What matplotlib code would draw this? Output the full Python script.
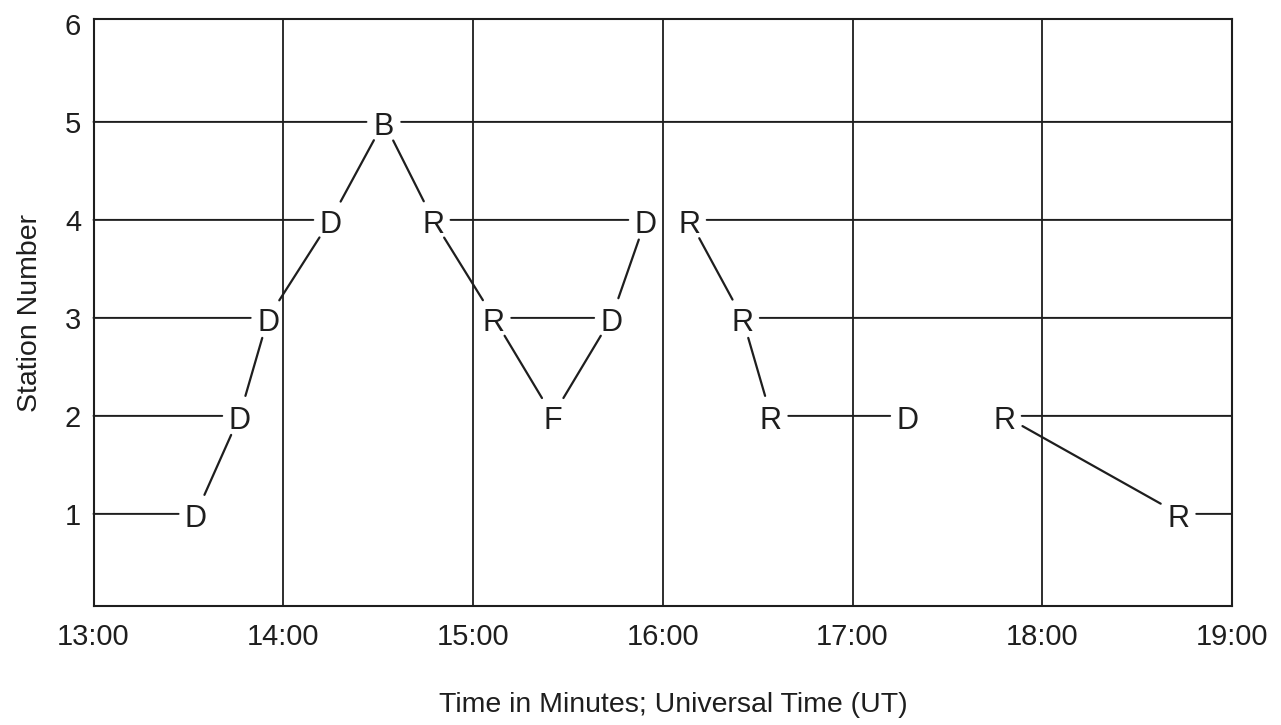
import matplotlib
matplotlib.use("Agg")
import matplotlib.pyplot as plt

plt.rcParams['font.family'] = ['Liberation Sans', 'DejaVu Sans']

# Detections at each station: time (decimal hours UT), station number, code letter
event_times = [13.54, 13.77, 13.92, 14.25, 14.53, 14.79, 15.11, 15.42,
               15.73, 15.91, 16.14, 16.42, 16.57, 17.29, 17.80, 18.72]
event_stations = [1, 2, 3, 4, 5, 4, 3, 2, 3, 4, 4, 3, 2, 2, 2, 1]
event_labels = ['D', 'D', 'D', 'D', 'B', 'R', 'R', 'F',
                'D', 'D', 'R', 'R', 'R', 'D', 'R', 'R']

# Links between detections (pairs of event indices)
slanted_links = [(0, 1), (1, 2), (2, 3), (3, 4), (4, 5), (5, 6), (6, 7),
                 (7, 8), (8, 9), (10, 11), (11, 12), (14, 15)]
level_links = [(5, 9), (6, 8), (12, 13)]
# Station lines running in from the left edge / out to the right edge
from_left = [0, 1, 2, 3, 4]
to_right = [4, 10, 11, 14, 15]

x_ticks = [13, 14, 15, 16, 17, 18, 19]
x_tick_labels = ['13:00', '14:00', '15:00', '16:00', '17:00', '18:00', '19:00']
y_ticks = [1, 2, 3, 4, 5, 6]

ink = '#1e1e1e'
W, H = 1281, 725
fig = plt.figure(figsize=(W / 100, H / 100), dpi=100)
ax = fig.add_axes([93.5 / W, 1 - 606 / H, (1232 - 93.5) / W, (606 - 19) / H])

x0, x1 = 13, 19
ax.set_xlim(x0, x1)
ax.set_ylim(0.06, 6.05)

for s in ax.spines.values():
    s.set_color(ink)
    s.set_linewidth(1.5)

# Hour grid
for t in x_ticks[1:-1]:
    ax.axvline(t, color=ink, lw=1.3, zorder=1)

gap_h = 12.5   # clearance around a letter along a station line (points)
gap_s = 15.0   # clearance around a letter along a slanted link (points)
lw = 1.4


def link(p, q, shrink_a, shrink_b, width=lw):
    ax.annotate('', xy=q, xytext=p, xycoords='data', textcoords='data',
                arrowprops=dict(arrowstyle='-', color=ink, lw=width,
                                shrinkA=shrink_a, shrinkB=shrink_b),
                zorder=2)


pts = list(zip(event_times, event_stations))

for i in from_left:
    link((x0, event_stations[i]), pts[i], 0, gap_h)
for i in to_right:
    link(pts[i], (x1, event_stations[i]), gap_h, 0)
for a, b in level_links:
    link(pts[a], pts[b], gap_h, gap_h)
for a, b in slanted_links:
    link(pts[a], pts[b], gap_s, gap_s, width=1.6)

for (t, s), lab in zip(pts, event_labels):
    ax.annotate(lab, xy=(t, s), xytext=(0, -3.5), textcoords='offset points',
                ha='center', va='center', fontsize=22, color=ink, zorder=3)

ax.set_xticks(x_ticks)
ax.set_xticklabels(x_tick_labels)
ax.set_yticks(y_ticks)
ax.tick_params(axis='both', length=0, labelsize=21, colors=ink)
ax.tick_params(axis='x', pad=12)
ax.tick_params(axis='y', pad=9)

ax.set_xlabel('Time in Minutes; Universal Time (UT)', fontsize=20.5,
              color=ink, labelpad=30, x=0.509)
ax.set_ylabel('Station Number', fontsize=20.5, color=ink, labelpad=16)

fig.savefig('out.png', dpi=100, facecolor='white')
